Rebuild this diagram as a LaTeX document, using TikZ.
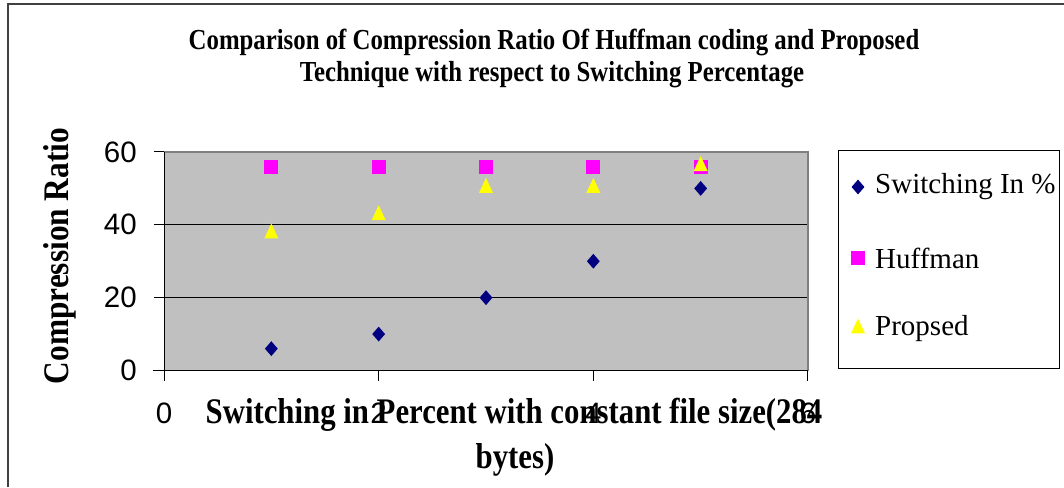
\documentclass[tikz,border=0pt]{standalone}
\usepackage{fontspec}
\setmainfont{Liberation Serif}
\newfontfamily\arial{Liberation Sans}
\usetikzlibrary{shapes.geometric}
\definecolor{plotgray}{HTML}{C0C0C0}
\definecolor{bordergray}{HTML}{808080}
\definecolor{framegray}{HTML}{404040}
\definecolor{navy}{HTML}{000080}
\definecolor{mag}{HTML}{FF00FF}
\definecolor{yel}{HTML}{FFFF00}
\tikzset{
  sw/.style={diamond, fill=navy, draw=none, minimum width=13pt, minimum height=15pt, inner sep=0pt},
  hf/.style={rectangle, fill=mag, draw=none, minimum width=14pt, minimum height=14pt, inner sep=0pt},
  pr/.style={isosceles triangle, shape border rotate=90, isosceles triangle stretches, fill=yel, draw=none, minimum width=14pt, minimum height=15pt, inner sep=0pt},
  ticklab/.style={font=\arial\fontsize{29.5}{31}\selectfont, inner sep=0pt},
  titlefont/.style={font=\bfseries\fontsize{29}{31}\selectfont, inner sep=0pt},
  axtitle/.style={font=\bfseries\fontsize{36}{38}\selectfont, inner sep=0pt},
  legtext/.style={font=\fontsize{29}{31}\selectfont, anchor=west, inner sep=0pt},
}
\begin{document}
\begin{tikzpicture}[x=1pt,y=-1pt]
\useasboundingbox (0,0) rectangle (1064,487);
% outer frame
\draw[framegray, line width=2pt] (8,487) -- (8,4) -- (1064,4);
% titles
\node[titlefont] (t1) at (554,42) {\scalebox{0.855}[1]{Comparison of Compression Ratio Of Huffman coding and Proposed}};
\node[titlefont] (t2) at (552,75) {\scalebox{0.855}[1]{Technique with respect to Switching Percentage}};
% plot
\begin{scope}[shift={(164,370.5)}, x=107.33pt, y=3.642pt]
  \fill[plotgray] (0,0) rectangle (6,60);
  \draw[black, line width=1pt] (0,20) -- (6,20);
  \draw[black, line width=1pt] (0,40) -- (6,40);
  \draw[bordergray, line width=1.5pt] (0,60) -- (6,60) -- (6,0);
  \draw[black, line width=1pt] (0,0) -- (0,60);
  \draw[black, line width=1pt] (-0.1,0) -- (6,0);
  \foreach \v in {0,20,40,60} \draw[black, line width=1pt] (0,\v) -- ++(-10pt,0);
  \foreach \v in {0,2,4,6} \draw[black, line width=1pt] (\v,0) -- ++(0,-10pt);
  \foreach \v in {0,20,40,60} \node[ticklab, anchor=east] (yl\v) at ([xshift=-27pt]0,\v) {\v};
  \foreach \v in {0,2,4,6} \node[ticklab] (xl\v) at ([yshift=-43pt]\v,0) {\v};
  % data
  \node[hf] (h1) at (1,56) {};
  \node[hf] (h2) at (2,56) {};
  \node[hf] (h3) at (3,56) {};
  \node[hf] (h4) at (4,56) {};
  \node[hf] (h5) at (5,56) {};
  \node[pr] (p1) at (1,37.5) {};
  \node[pr] (p2) at (2,42.5) {};
  \node[pr] (p3) at (3,50) {};
  \node[pr] (p4) at (4,50) {};
  \node[pr] (p5) at (5,56) {};
  \node[sw] (s1) at (1,6) {};
  \node[sw] (s2) at (2,10) {};
  \node[sw] (s3) at (3,20) {};
  \node[sw] (s4) at (4,30) {};
  \node[sw] (s5) at (5,50) {};
\end{scope}
% axis titles
\node[axtitle, rotate=90] (yt) at (60,256) {\scalebox{0.87}[1]{Compression Ratio}};
\node[axtitle] (xt1) at (514,415) {\scalebox{0.855}[1]{Switching in Percent with constant file size(284}};
\node[axtitle] (xt2) at (515,460) {\scalebox{0.855}[1]{bytes)}};
% legend
\node[draw=black, line width=1pt, fill=white, minimum width=221pt, minimum height=218pt, inner sep=0pt] (leg) at (948.5,259) {};
\node[sw] (ls) at (858,187) {};
\node[legtext] (lst) at (875,187) {Switching In \%};
\node[hf] (lh) at (858,258) {};
\node[legtext] (lht) at (875,258) {Huffman};
\node[pr] (lp) at (858,329) {};
\node[legtext] (lpt) at (875,329) {Propsed};
\end{tikzpicture}
\end{document}
